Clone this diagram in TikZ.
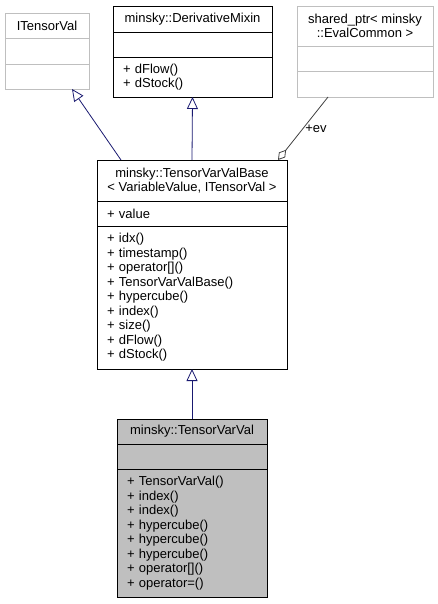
\documentclass[tikz,border=0pt]{standalone}
\usepackage{fontspec}
\setmainfont{Liberation Sans}
\usetikzlibrary{arrows.meta,positioning}
\definecolor{edgeblue}{HTML}{191970}
\definecolor{grey75}{HTML}{BFBFBF}
\definecolor{grey25}{HTML}{404040}
\tikzset{
    x=1pt, y=-1pt,
    compart/.style={draw, line width=0.8pt, outer sep=0pt, inner ysep=0pt, inner xsep=10pt,
        font=\fontsize{13}{14.5}\selectfont},
    classhead/.style={compart, inner xsep=4pt, align=center},
    members/.style={compart, align=left},
    greybox/.style={draw=grey75},
    curclass/.style={fill=grey75},
    inherit/.style={-{Triangle[open,length=12pt,width=11pt]}, edgeblue, line width=0.8pt},
    usage/.style={-{Diamond[open,length=13pt,width=8pt]}, grey25, line width=0.8pt}
}

\begin{document}
\begin{tikzpicture}
\useasboundingbox (0,0) rectangle (438,604);

% Classes on top
\node[classhead, greybox, minimum width=84pt, minimum height=25pt, anchor=north west] (itv) at (5,13) {ITensorVal};
\node[members, greybox, text width=64pt, minimum height=26pt, below=0pt of itv] (itv-attr) {};
\node[members, greybox, text width=64pt, minimum height=25pt, below=0pt of itv-attr] (itv-ops) {};

\node[classhead, minimum width=159pt, minimum height=26pt, anchor=north west] (dm) at (113,6) {minsky::DerivativeMixin};
\node[members, text width=139pt, minimum height=25pt, below=0pt of dm] (dm-attr) {};
\node[members, text width=139pt, minimum height=40pt, below=0pt of dm-attr] (dm-ops) {+ dFlow()\\+ dStock()};

\node[classhead, greybox, minimum width=136pt, minimum height=40pt, anchor=north west] (sp) at (297,6) {shared\_ptr< minsky\\::EvalCommon >};
\node[members, greybox, text width=116pt, minimum height=25pt, below=0pt of sp] (sp-attr) {};
\node[members, greybox, text width=116pt, minimum height=26pt, below=0pt of sp-attr] (sp-ops) {};

% Base class
\node[classhead, minimum width=190pt, minimum height=41pt, anchor=north west] (base) at (97,160) {minsky::TensorVarValBase\\< VariableValue, ITensorVal >};
\node[members, text width=170pt, minimum height=25pt, below=0pt of base] (base-attr) {+ value};
\node[members, text width=170pt, minimum height=143pt, below=0pt of base-attr] (base-ops)
{+ idx()\\+ timestamp()\\+ operator[]()\\+ TensorVarValBase()\\+ hypercube()\\+ index()\\+ size()\\+ dFlow()\\+ dStock()};

% Derived class
\node[classhead, curclass, minimum width=150pt, minimum height=25pt, anchor=north west] (tvv) at (117,419) {minsky::TensorVarVal};
\node[members, curclass, text width=130pt, minimum height=25pt, below=0pt of tvv] (tvv-attr) {};
\node[members, curclass, text width=130pt, minimum height=128pt, below=0pt of tvv-attr] (tvv-ops)
{+ TensorVarVal()\\+ index()\\+ index()\\+ hypercube()\\+ hypercube()\\+ hypercube()\\+ operator[]()\\+ operator=()};

% Edges
\draw[inherit] ([xshift=24pt]base.north west) -- ([xshift=-17pt]itv-ops.south east);
\draw[inherit] (base.north) -- (dm-ops.south);
\draw[usage] ([xshift=31pt]sp-ops.south west) -- node[pos=0.5, right, inner sep=2pt, font=\fontsize{13}{14.5}\selectfont, text=black] {+ev} ([xshift=-9pt]base.north east);
\draw[inherit] (tvv.north) -- (base-ops.south);
\end{tikzpicture}
\end{document}
